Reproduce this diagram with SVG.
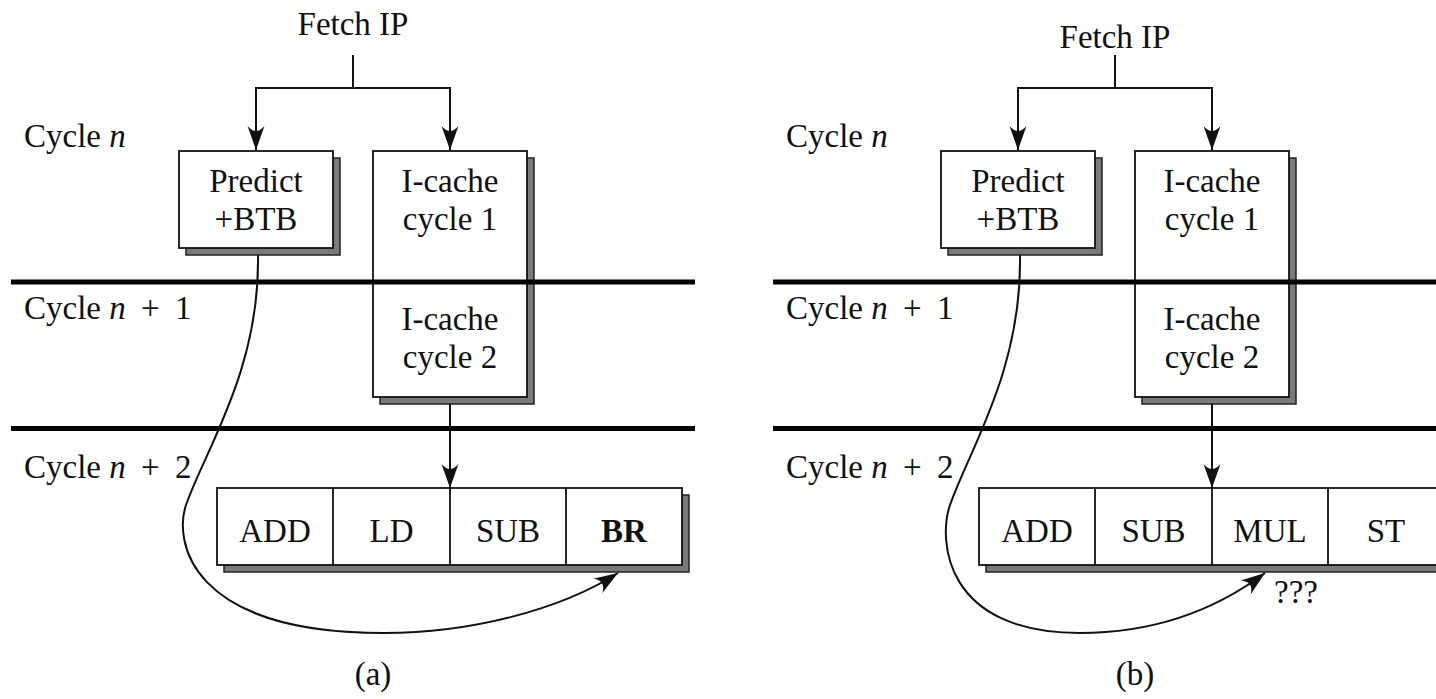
<svg xmlns="http://www.w3.org/2000/svg" width="1436" height="699" viewBox="0 0 1436 699">
<style>
text{font-family:"Liberation Serif","Times New Roman",serif;font-size:33px;fill:#111}
.c{text-anchor:middle}
.box{fill:#fff;stroke:#111;stroke-width:1.8}
.sh{fill:#7a7a7a;stroke:#222;stroke-width:1.5}
.sep{stroke:#000;stroke-width:5}
.ln{fill:none;stroke:#111;stroke-width:2}
.arr{fill:none;stroke:#111;stroke-width:2;marker-end:url(#ah)}
.div{stroke:#111;stroke-width:1.8}
</style>
<defs>
<marker id="ah" markerUnits="userSpaceOnUse" markerWidth="30" markerHeight="20" viewBox="-26 -10 28 20" refX="0" refY="0" orient="auto">
<path d="M0,0 L-24,-8.5 Q-14,0 -24,8.5 Z" fill="#111"/>
</marker>
</defs>
<rect width="1436" height="699" fill="#fff"/>

<!-- Panel (a) -->
<g id="panel-a">
<g id="labels-a">
<text id="fetch-a" class="c" x="353" y="35">Fetch IP</text>
<text x="24" y="147">Cycle <tspan font-style="italic">n</tspan></text>
<text x="24" y="319">Cycle <tspan font-style="italic">n</tspan> <tspan x="141">+</tspan> <tspan x="175">1</tspan></text>
<text x="24" y="478">Cycle <tspan font-style="italic">n</tspan> <tspan x="141">+</tspan> <tspan x="175">2</tspan></text>
<text class="c" x="373" y="685">(a)</text>
</g>
<g id="predict-a">
<rect class="sh" x="186" y="158" width="154" height="97"/>
<rect class="box" x="179" y="151" width="154" height="97"/>
<text class="c" x="256" y="192">Predict</text>
<text class="c" x="256" y="230">+BTB</text>
</g>
<g id="icache-a">
<rect class="sh" x="380" y="158" width="154" height="246"/>
<rect class="box" x="373" y="151" width="154" height="246"/>
<text class="c" x="450" y="192">I-cache</text>
<text class="c" x="450" y="230">cycle 1</text>
<text class="c" x="450" y="330">I-cache</text>
<text class="c" x="450" y="368">cycle 2</text>
</g>
<g id="row-a">
<rect class="sh" x="224" y="495" width="465" height="77"/>
<rect class="box" x="217" y="488" width="465" height="77"/>
<line class="div" x1="333" y1="488" x2="333" y2="565"/>
<line class="div" x1="450" y1="488" x2="450" y2="565"/>
<line class="div" x1="566" y1="488" x2="566" y2="565"/>
<text class="c" x="275" y="542">ADD</text>
<text class="c" x="391.5" y="542">LD</text>
<text class="c" x="508" y="542">SUB</text>
<text class="c" x="624" y="542" font-weight="bold">BR</text>
</g>
<g id="separators-a">
<line class="sep" x1="11" y1="282" x2="695" y2="282"/>
<line class="sep" x1="11" y1="428.5" x2="695" y2="428.5"/>
</g>
<g id="connectors-a">
<path class="ln" d="M353,55 V88"/>
<path class="arr" d="M353,88 H256 V150"/>
<path class="arr" d="M353,88 H450 V150"/>
<path class="arr" d="M450,404 V488"/>
<path class="arr" d="M258,255 C260,370 205,450 186,505 C174,540 188,633 384,633 C470,633 560,610 618,573"/>
</g>
</g>

<!-- Panel (b) -->
<g id="panel-b" transform="translate(762,0)">
<g id="labels-b">
<text id="fetch-b" class="c" x="353" y="48">Fetch IP</text>
<text x="24" y="147">Cycle <tspan font-style="italic">n</tspan></text>
<text x="24" y="319">Cycle <tspan font-style="italic">n</tspan> <tspan x="141">+</tspan> <tspan x="175">1</tspan></text>
<text x="24" y="478">Cycle <tspan font-style="italic">n</tspan> <tspan x="141">+</tspan> <tspan x="175">2</tspan></text>
<text class="c" x="373" y="685">(b)</text>
<text x="512" y="603">???</text>
</g>
<g id="predict-b">
<rect class="sh" x="186" y="158" width="154" height="97"/>
<rect class="box" x="179" y="151" width="154" height="97"/>
<text class="c" x="256" y="192">Predict</text>
<text class="c" x="256" y="230">+BTB</text>
</g>
<g id="icache-b">
<rect class="sh" x="380" y="158" width="154" height="246"/>
<rect class="box" x="373" y="151" width="154" height="246"/>
<text class="c" x="450" y="192">I-cache</text>
<text class="c" x="450" y="230">cycle 1</text>
<text class="c" x="450" y="330">I-cache</text>
<text class="c" x="450" y="368">cycle 2</text>
</g>
<g id="row-b">
<rect class="sh" x="224" y="495" width="465" height="77"/>
<rect class="box" x="217" y="488" width="465" height="77"/>
<line class="div" x1="333" y1="488" x2="333" y2="565"/>
<line class="div" x1="450" y1="488" x2="450" y2="565"/>
<line class="div" x1="566" y1="488" x2="566" y2="565"/>
<text class="c" x="275" y="542">ADD</text>
<text class="c" x="391.5" y="542">SUB</text>
<text class="c" x="508" y="542">MUL</text>
<text class="c" x="624" y="542">ST</text>
</g>
<g id="separators-b">
<line class="sep" x1="11" y1="282" x2="680" y2="282"/>
<line class="sep" x1="11" y1="428.5" x2="680" y2="428.5"/>
</g>
<g id="connectors-b">
<path class="ln" d="M353,55 V88"/>
<path class="arr" d="M353,88 H256 V150"/>
<path class="arr" d="M353,88 H450 V150"/>
<path class="arr" d="M450,404 V488"/>
<path class="arr" d="M258,255 C260,370 207,450 188,505 C176,540 182,633 318,633 C400,633 460,605 503,573"/>
</g>
</g>
</svg>
